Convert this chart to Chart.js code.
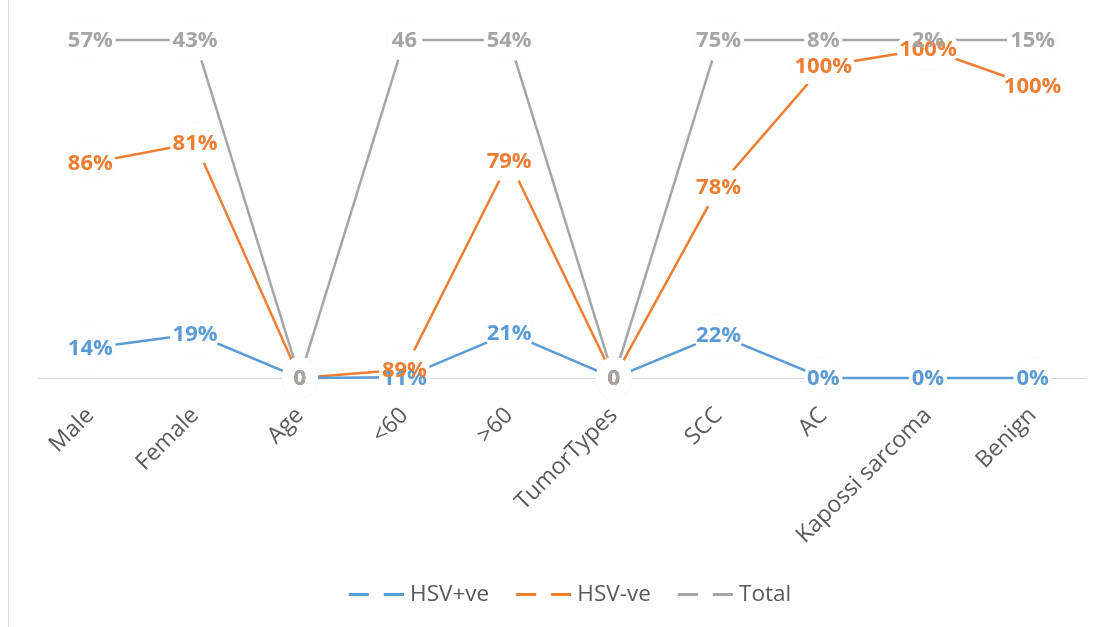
<!DOCTYPE html>
<html>
<head>
<meta charset="utf-8">
<title>HSV status</title>
<script src="https://cdn.jsdelivr.net/npm/chart.js"></script>
<style>
  html, body { margin: 0; padding: 0; background: #fff; }
  .chart-container { position: relative; width: 1108px; height: 627px; }
</style>
</head>
<body>
<div class="chart-container">
  <canvas id="hsvChart"></canvas>
</div>
<script>
  // categories and values (heights, on a 0..160 scale)
  var categories = ["Male", "Female", "Age", "<60", ">60", "TumorTypes", "SCC", "AC", "Kapossi sarcoma", "Benign"];
  var hsvPos = [14.2, 20.8, 0, 0.3, 21.3, 0, 20.4, 0, 0, 0];
  var hsvNeg = [101.8, 111.2, 0, 4.0, 102.7, 0, 90.4, 147.7, 155.7, 138.2];
  var total  = [160, 160, 0, 160, 160, 0, 160, 160, 160, 160];

  // data label texts as printed on the chart
  var hsvPosText = ["14%", "19%", "0", "11%", "21%", "0", "22%", "0%", "0%", "0%"];
  var hsvNegText = ["86%", "81%", "0", "89%", "79%", "0", "78%", "100%", "100%", "100%"];
  var totalText  = ["57%", "43%", "0", "46", "54%", "0", "75%", "8%", "2%", "15%"];

  var yMax = 160;
  var chartColors = { blue: '#5B9BD5', orange: '#ED7D31', gray: '#A5A5A5', text: '#595959', axis: '#D9D9D9' };

  // legend marker: two short dashes, like the office legend
  function makeMarker(color) {
    var c = document.createElement('canvas');
    c.width = 77; c.height = 3;
    var g = c.getContext('2d');
    g.fillStyle = color;
    g.fillRect(22, 0, 20, 3);
    g.fillRect(57, 0, 20, 3);
    return c;
  }

  // text labels centred on each point, on a white oval
  var pointTextPlugin = {
    id: 'pointText',
    afterDatasetsDraw: function (chart) {
      var ctx = chart.ctx;
      var items = [];
      chart.data.datasets.forEach(function (ds, di) {
        var meta = chart.getDatasetMeta(di);
        meta.data.forEach(function (pt, i) {
          items.push({ x: pt.x, y: pt.y, text: ds.pointText[i], color: ds.borderColor });
        });
      });
      ctx.save();
      ctx.font = 'bold 22px "Open Sans"';
      ctx.textAlign = 'center';
      ctx.textBaseline = 'middle';
      items.forEach(function (it) {
        var tw = ctx.measureText(it.text).width;
        ctx.beginPath();
        ctx.ellipse(it.x, it.y, Math.max(tw / 2 + 3, 18), 21, 0, 0, Math.PI * 2);
        ctx.fillStyle = '#fff';
        ctx.fill();
        ctx.strokeStyle = 'rgba(0,0,0,0.02)';
        ctx.lineWidth = 1;
        ctx.stroke();
      });
      items.forEach(function (it) {
        ctx.fillStyle = it.color;
        ctx.fillText(it.text, it.x, it.y + 1);
      });
      ctx.restore();
    }
  };

  var framePlugin = {
    id: 'frame',
    beforeDraw: function (chart) {
      var ctx = chart.ctx;
      ctx.save();
      ctx.strokeStyle = chartColors.axis;
      ctx.lineWidth = 1;
      ctx.beginPath();
      ctx.moveTo(8.5, 0);
      ctx.lineTo(8.5, chart.height);
      ctx.stroke();
      ctx.restore();
    }
  };

  var ctx_hsv = document.getElementById('hsvChart');

  var Charthsv = new Chart(ctx_hsv, {
    type: 'line',
    data: {
      labels: categories,
      datasets: [
        { label: 'HSV+ve', data: hsvPos, pointText: hsvPosText, borderColor: chartColors.blue, backgroundColor: chartColors.blue, borderWidth: 2.5, pointRadius: 0, tension: 0, clip: 6, marker: makeMarker(chartColors.blue) },
        { label: 'HSV-ve', data: hsvNeg, pointText: hsvNegText, borderColor: chartColors.orange, backgroundColor: chartColors.orange, borderWidth: 2.5, pointRadius: 0, tension: 0, clip: 6, marker: makeMarker(chartColors.orange) },
        { label: 'Total', data: total, pointText: totalText, borderColor: chartColors.gray, backgroundColor: chartColors.gray, borderWidth: 2.5, pointRadius: 0, tension: 0, clip: 6, marker: makeMarker(chartColors.gray) }
      ]
    },
    options: {
      responsive: true,
      maintainAspectRatio: false,
      animation: false,
      layout: { padding: { left: 38, right: 23, top: 40, bottom: 11 } },
      scales: {
        x: {
          offset: true,
          grid: { display: false, drawTicks: false },
          border: { color: chartColors.axis, width: 1 },
          ticks: {
            color: chartColors.text,
            font: { family: '"Open Sans"', size: 23 },
            minRotation: 45,
            maxRotation: 45,
            autoSkip: false,
            padding: 24
          },
          afterFit: function (scale) { scale.height = 195.5; }
        },
        y: { display: false, min: 0, max: yMax }
      },
      plugins: {
        tooltip: { enabled: false },
        legend: {
          position: 'bottom',
          labels: {
            usePointStyle: true,
            pointStyleWidth: 67,
            padding: 10,
            color: chartColors.text,
            font: { family: '"Open Sans"', size: 22.5 },
            generateLabels: function (chart) {
              return chart.data.datasets.map(function (ds, i) {
                return {
                  text: ds.label,
                  fillStyle: ds.borderColor,
                  strokeStyle: ds.borderColor,
                  lineWidth: 0,
                  pointStyle: ds.marker,
                  fontColor: chartColors.text,
                  hidden: false,
                  datasetIndex: i
                };
              });
            }
          }
        }
      }
    },
    plugins: [framePlugin, pointTextPlugin]
  });
</script>
</body>
</html>
